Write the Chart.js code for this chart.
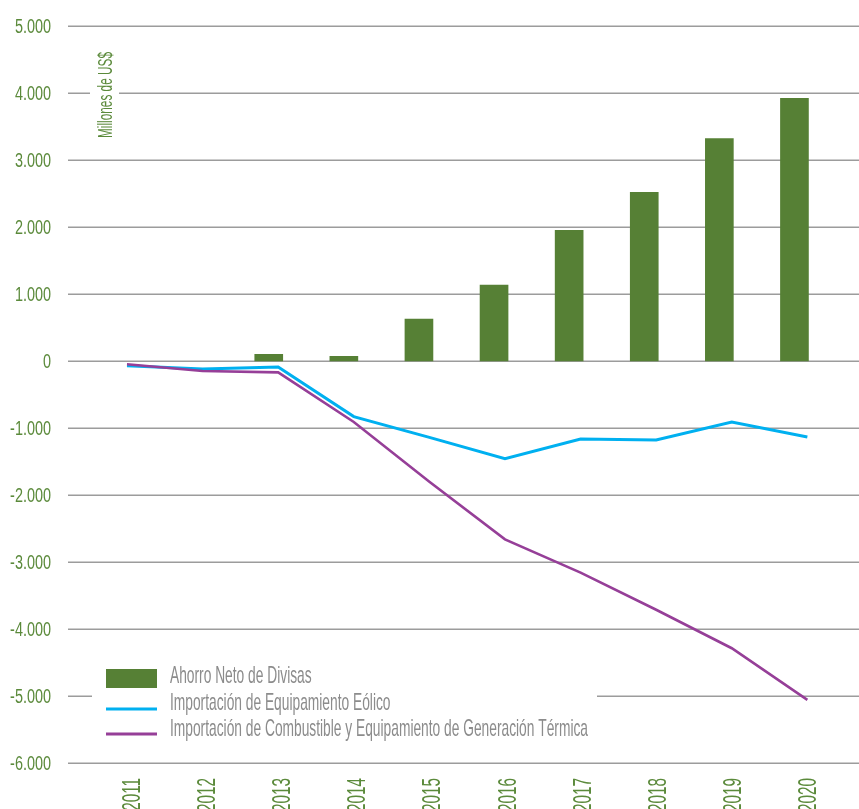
<!DOCTYPE html>
<html>
<head>
<meta charset="utf-8">
<script src="https://cdn.jsdelivr.net/npm/chart.js@4/dist/chart.umd.min.js"></script>
<style>
  html, body { margin: 0; padding: 0; background: #ffffff; }
  #wrap { width: 859px; height: 809px; }
</style>
</head>
<body>
<div id="wrap"><canvas id="chart" width="859" height="809"></canvas></div>
<script>
// Years on the category axis
const yearLabels = ['2011', '2012', '2013', '2014', '2015', '2016', '2017', '2018', '2019', '2020'];

// Millones de US$ (no net saving bar in 2011-2012)
const ahorroNetoDivisas = [null, null, 100, 70, 625, 1130, 1950, 2515, 3318, 3915];
const importacionEolico = [-70, -119, -90, -830, -1140, -1457, -1163, -1178, -910, -1133];
const importacionTermica = [-50, -150, -170, -910, -1800, -2660, -3157, -3710, -4284, -5055];

// Value axis ticks
const yTickValues = [5000, 4000, 3000, 2000, 1000, 0, -1000, -2000, -3000, -4000, -5000, -6000];

const seriesNames = [
  'Ahorro Neto de Divisas',
  'Importación de Equipamiento Eólico',
  'Importación de Combustible y Equipamiento de Generación Térmica'
];
const axisTitle = 'Millones de US$';

const GREEN = '#568035';
const GREEN_TEXT = '#5b8a3b';
const BLUE = '#00b0f0';
const PURPLE = '#963f98';
const GRID = '#9c9c9c';
const LEGEND_TEXT = '#8c8c8c';
const FONT = '"Liberation Sans", Arial, sans-serif';

Chart.defaults.font.family = FONT;

function formatMiles(v) {
  const s = Math.abs(v).toString().replace(/\B(?=(\d{3})+(?!\d))/g, '.');
  return (v < 0 ? '-' : '') + s;
}

// Draws text squeezed horizontally to a condensed width
function condensedText(ctx, text, x, y, sx, rot) {
  ctx.save();
  ctx.translate(x, y);
  if (rot) ctx.rotate(rot);
  ctx.scale(sx, 1);
  ctx.fillText(text, 0, 0);
  ctx.restore();
}

// Horizontal gridlines run a little past the plot on both sides
const gridPlugin = {
  id: 'wideGrid',
  beforeDatasetsDraw(chart) {
    const { ctx } = chart;
    const y = chart.scales.y;
    ctx.save();
    ctx.strokeStyle = GRID;
    ctx.lineWidth = 1.6;
    y.ticks.forEach(t => {
      const py = Math.round(y.getPixelForValue(t.value)) + 0.2;
      ctx.beginPath();
      ctx.moveTo(68, py);
      ctx.lineTo(chart.width, py);
      ctx.stroke();
    });
    ctx.restore();
  }
};

// Condensed tick labels placed at the scales' own tick positions
const tickLabelPlugin = {
  id: 'condensedTicks',
  afterDraw(chart) {
    const { ctx } = chart;
    const y = chart.scales.y;
    const x = chart.scales.x;
    ctx.save();
    ctx.fillStyle = GREEN_TEXT;
    ctx.textBaseline = 'alphabetic';

    ctx.font = '19.5px ' + FONT;
    ctx.textAlign = 'right';
    y.ticks.forEach(t => {
      condensedText(ctx, formatMiles(t.value), 51, y.getPixelForValue(t.value) + 7, 0.74, 0);
    });

    ctx.font = '25px ' + FONT;
    ctx.textAlign = 'right';
    x.ticks.forEach((t, i) => {
      const px = x.getPixelForTick(i) - 1.5;
      ctx.save();
      ctx.translate(px, 778);
      ctx.rotate(-Math.PI / 2);
      ctx.scale(0.61, 1);
      ctx.fillText(x.getLabelForValue(t.value), 0, 9);
      ctx.restore();
    });
    ctx.restore();
  }
};

// Axis title and the legend panel inside the plot
const overlayPlugin = {
  id: 'overlay',
  afterDraw(chart) {
    const { ctx } = chart;
    ctx.save();

    // axis title, vertical
    ctx.fillStyle = '#ffffff';
    ctx.fillRect(90, 44, 29, 100);
    ctx.font = '21px ' + FONT;
    const tsx = 86 / ctx.measureText(axisTitle).width;
    ctx.fillStyle = GREEN_TEXT;
    ctx.textAlign = 'center';
    ctx.textBaseline = 'alphabetic';
    condensedText(ctx, axisTitle, 112, 95, tsx, -Math.PI / 2);
    ctx.restore();

    // legend
    ctx.save();
    ctx.fillStyle = '#ffffff';
    ctx.fillRect(92, 652, 505, 94);
    const ds = chart.data.datasets;
    const baselines = [682.5, 709.5, 736];
    const symbolY = [678.5, 709, 734];
    ctx.font = '24px ' + FONT;
    const longest = Math.max(...ds.map(d => ctx.measureText(d.label).width));
    const sx = 418 / longest;
    ds.forEach((d, i) => {
      if (d.type === 'bar') {
        ctx.fillStyle = d.backgroundColor;
        ctx.fillRect(106, 669, 51, 19);
      } else {
        ctx.strokeStyle = d.borderColor;
        ctx.lineWidth = 3;
        ctx.beginPath();
        ctx.moveTo(106, symbolY[i]);
        ctx.lineTo(157, symbolY[i]);
        ctx.stroke();
      }
      ctx.fillStyle = LEGEND_TEXT;
      ctx.textAlign = 'left';
      ctx.textBaseline = 'alphabetic';
      condensedText(ctx, d.label, 170, baselines[i], sx, 0);
    });
    ctx.restore();
  }
};

new Chart(document.getElementById('chart'), {
  type: 'bar',
  data: {
    labels: yearLabels,
    datasets: [
      {
        type: 'bar',
        label: seriesNames[0],
        data: ahorroNetoDivisas,
        backgroundColor: GREEN,
        barThickness: 28,
        xAxisID: 'x',
        order: 3
      },
      {
        type: 'line',
        label: seriesNames[1],
        data: yearLabels.map((_, i) => ({ x: i, y: importacionEolico[i] })),
        borderColor: BLUE,
        borderWidth: 3,
        pointRadius: 0,
        tension: 0,
        fill: false,
        xAxisID: 'xl',
        order: 2
      },
      {
        type: 'line',
        label: seriesNames[2],
        data: yearLabels.map((_, i) => ({ x: i, y: importacionTermica[i] })),
        borderColor: PURPLE,
        borderWidth: 2.6,
        pointRadius: 0,
        tension: 0,
        fill: false,
        xAxisID: 'xl',
        order: 1
      }
    ]
  },
  options: {
    responsive: false,
    animation: false,
    devicePixelRatio: 1,
    layout: { padding: { top: 25.7, right: 13, bottom: 0, left: 0 } },
    plugins: { legend: { display: false }, tooltip: { enabled: false } },
    scales: {
      x: {
        type: 'category',
        offset: true,
        grid: { display: false },
        border: { display: false },
        ticks: { display: false, autoSkip: false },
        afterFit(s) { s.height = 45.7; }
      },
      xl: {
        type: 'linear',
        display: false,
        offset: false,
        min: -0.423,
        max: 9.511
      },
      y: {
        min: -6000,
        max: 5000,
        grid: { display: false },
        border: { display: false },
        ticks: { display: false },
        afterBuildTicks(s) { s.ticks = yTickValues.map(v => ({ value: v })); },
        afterFit(s) { s.width = 95; }
      }
    }
  },
  plugins: [gridPlugin, tickLabelPlugin, overlayPlugin]
});
</script>
</body>
</html>
